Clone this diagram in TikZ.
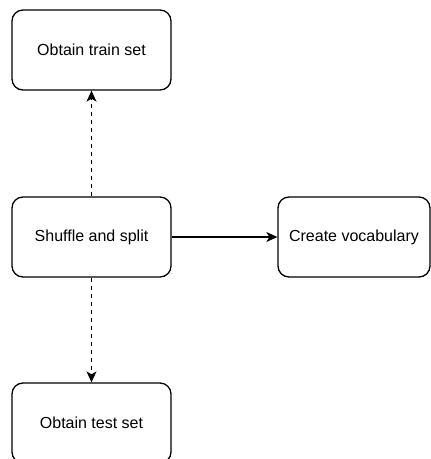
\documentclass[tikz,border=0pt]{standalone}
\usepackage{fontspec}
\setmainfont{Liberation Sans}
\usetikzlibrary{arrows.meta}
\begin{document}
\begin{tikzpicture}[x=1pt,y=1pt,
  stepbox/.style={draw=black, line width=1.3pt, rounded corners=11pt, fill=white,
    minimum height=80pt, inner sep=0pt, font=\fontsize{16}{19}\selectfont},
  flow/.style={draw=black, line width=1.3pt, -{Stealth[length=11pt,width=10pt,inset=3pt]}},
  dashflow/.style={flow, dash pattern=on 4pt off 4pt}]
  \useasboundingbox (0,0) rectangle (431,-459);
  \node[stepbox, minimum width=159pt] (train)   at (91.5,-50)  {Obtain train set};
  \node[stepbox, minimum width=159pt] (shuffle) at (91.5,-237) {Shuffle and split};
  \node[stepbox, minimum width=152pt] (vocab)   at (354,-237)  {Create vocabulary};
  \node[stepbox, minimum width=159pt] (test)    at (91.5,-423) {Obtain test set};
  \draw[dashflow] (shuffle) -- (train);
  \draw[dashflow] (shuffle) -- (test);
  \draw[flow] (shuffle) -- (vocab);
\end{tikzpicture}
\end{document}
